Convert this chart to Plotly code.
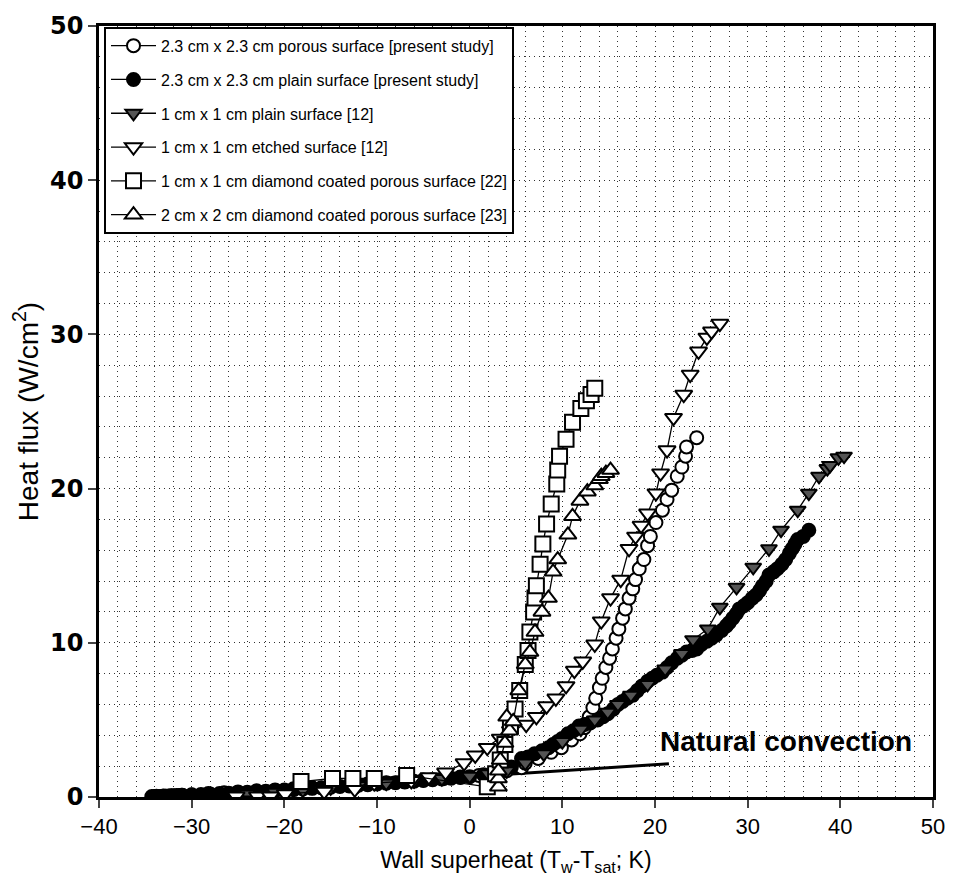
import plotly.graph_objects as go

# ---- data ----
porous_x = [-33.8, -33.0, -32.2, -31.1, -30.0, -28.2, -26.5, -25.0, -23.0, -21.0, -19.0, -17.0, -15.0, -13.0,
            -11.0, -9.0, -7.0, -5.0, -2.8, -1.0, 1.0, 2.5, 4.0, 5.6, 6.0, 7.4, 8.8, 9.9, 11.0, 11.9, 12.4,
            12.9, 13.3, 13.6, 14.0, 14.3, 14.7, 15.1, 15.4, 15.8, 16.1, 16.5, 16.8, 17.2, 17.6, 17.9, 18.3,
            18.8, 19.2, 19.5, 20.1, 20.8, 21.3, 21.8, 22.4, 22.9, 23.3, 23.4, 24.5]
porous_y = [0.05, 0.06, 0.08, 0.12, 0.15, 0.22, 0.28, 0.33, 0.40, 0.46, 0.53, 0.60, 0.68, 0.76,
            0.84, 0.92, 1.00, 1.10, 1.20, 1.30, 1.40, 1.50, 1.70, 1.90, 2.2, 2.5, 2.9, 3.2, 3.7, 4.1, 4.5,
            5.2, 5.8, 6.4, 7.1, 7.7, 8.4, 9.0, 9.6, 10.3, 10.9, 11.6, 12.2, 12.9, 13.5, 14.1, 14.8,
            15.4, 16.3, 16.9, 17.8, 18.6, 19.3, 19.9, 20.8, 21.4, 22.1, 22.7, 23.3]

plain_x = [-34.3, -34.0, -33.7, -33.4, -33.1, -32.8, -32.5, -32.2, -31.9, -31.6, -31.3, -31.0, -30.0,
           -29.0, -28.0, -27.0, -26.0, -25.0, -24.0, -23.0, -22.0, -21.0, -20.0, -19.0, -18.0, -17.0,
           -16.0, -15.0, -14.0, -13.0, -12.0, -11.0, -10.0, -9.0, -8.0, -7.0, -6.0, -5.0, -4.0, -3.0,
           -2.0, -1.0, 0.0, 1.5, 3.0, 4.5, 5.6, 6.3, 7.0, 7.8, 8.5, 9.0, 9.5, 10.0, 10.6, 11.2, 11.8,
           12.4, 13.0, 13.8, 14.4, 14.9, 15.5, 16.0, 16.5, 17.0, 17.6, 18.1, 18.6, 19.2, 19.7, 20.2,
           20.8, 21.3, 21.8, 22.4, 22.9, 23.4, 24.0, 24.5, 25.0, 25.6, 26.1, 26.6, 27.2, 27.7, 28.0,
           28.4, 28.8, 29.1, 29.6, 30.0, 30.5, 30.9, 31.3, 31.6, 32.0, 32.3, 32.8, 33.2, 33.7, 34.1,
           34.5, 34.8, 35.1, 35.4, 36.0, 36.6]
plain_y = [0.03, 0.03, 0.04, 0.04, 0.05, 0.05, 0.06, 0.07, 0.08, 0.09, 0.10, 0.11, 0.13,
           0.16, 0.19, 0.22, 0.25, 0.28, 0.31, 0.35, 0.38, 0.40, 0.45, 0.48, 0.52, 0.56,
           0.60, 0.64, 0.68, 0.72, 0.76, 0.80, 0.85, 0.89, 0.93, 0.97, 1.02, 1.07, 1.12, 1.17,
           1.22, 1.27, 1.32, 1.45, 1.60, 1.95, 2.5, 2.6, 2.8, 3.0, 3.2, 3.4, 3.6, 3.8, 4.1, 4.3, 4.6,
           4.7, 4.8, 5.0, 5.2, 5.4, 5.7, 6.0, 6.2, 6.4, 6.6, 6.9, 7.2, 7.5, 7.7, 7.9,
           8.1, 8.4, 8.7, 9.0, 9.2, 9.4, 9.5, 9.6, 9.9, 10.1, 10.3, 10.5, 10.8, 11.1, 11.3,
           11.6, 11.9, 12.2, 12.4, 12.6, 12.9, 13.1, 13.4, 13.7, 14.0, 14.4, 14.6, 14.8, 15.1, 15.4,
           15.8, 16.1, 16.4, 16.7, 16.9, 17.3]

plain12_x = [-24.0, -21.0, -18.0, -15.0, -12.0, -9.0, -6.0, -3.0, 0.0, 2.0, 4.0, 6.0, 8.0, 10.0, 12.0,
             13.5, 14.9, 16.0, 17.4, 19.2, 21.1, 22.9, 24.1, 25.7, 27.0, 28.8, 30.6, 32.3, 33.6, 35.4,
             36.6, 37.7, 38.6, 38.9, 39.8, 40.4]
plain12_y = [0.20, 0.30, 0.45, 0.60, 0.75, 0.90, 1.05, 1.20, 1.35, 1.50, 1.70, 2.2, 2.8, 3.6, 4.4,
             5.0, 5.5, 6.0, 6.6, 7.3, 8.3, 9.3, 10.2, 10.9, 12.3, 13.6, 14.9, 16.1, 17.3, 18.6,
             19.7, 20.8, 21.3, 21.5, 22.0, 22.1]

etched_x = [-25.2, -22.9, -21.5, -19.9, -15.7, -12.4, -10.3, -6.3, -4.4, -2.6, -0.6, 0.6, 1.9, 3.3, 4.4,
            6.1, 7.2, 8.3, 9.3, 10.4, 11.3, 12.2, 13.5, 14.2, 15.2, 16.3, 17.2, 17.9, 18.5, 19.2, 20.1,
            20.6, 21.3, 22.0, 23.1, 23.8, 24.7, 25.6, 26.1, 27.0]
etched_y = [0.05, 0.05, 0.05, 0.20, 0.35, 0.50, 0.90, 1.05, 1.30, 1.60, 2.2, 2.7, 3.2, 3.8, 4.3,
            4.7, 5.2, 5.9, 6.4, 7.2, 8.2, 8.8, 9.9, 11.4, 12.9, 14.1, 16.1, 16.9, 17.6, 18.4, 19.7,
            21.0, 22.5, 24.6, 26.1, 27.4, 28.9, 29.8, 30.2, 30.7]

diamond1_x = [-18.2, -14.8, -12.6, -10.3, -6.8, 1.9, 2.8, 3.3, 3.8, 4.4, 4.9, 5.4, 6.0, 6.3, 6.5, 6.9,
              7.05, 7.2, 7.6, 7.9, 8.3, 8.8, 9.4, 9.5, 9.7, 10.4, 11.1, 12.0, 12.6, 13.1, 13.5]
diamond1_y = [1.0, 1.2, 1.2, 1.2, 1.4, 0.66, 1.5, 2.4, 3.4, 4.6, 5.7, 6.9, 8.6, 9.5, 10.7, 12.0,
              12.9, 13.7, 15.1, 16.4, 17.7, 19.0, 20.3, 21.2, 22.1, 23.2, 24.3, 25.2, 25.7, 26.1, 26.5]

diamond2_x = [3.1, 3.1, 3.1, 3.3, 3.8, 4.0, 4.3, 4.7, 5.3, 6.0, 6.5, 7.05, 7.8, 8.5, 9.0, 9.5, 10.6,
              11.1, 11.9, 12.7, 13.5, 14.0, 14.2, 14.7, 15.2]
diamond2_y = [0.66, 1.2, 1.7, 2.4, 3.5, 5.2, 4.3, 4.9, 6.9, 8.6, 9.4, 10.7, 12.0, 12.9, 14.6, 15.4, 17.0,
              18.2, 19.2, 19.8, 20.2, 20.6, 20.8, 21.0, 21.2]

natconv_x = [-34.0, 21.5]
natconv_y = [0.0, 2.15]

series_names = [
    "2.3 cm x 2.3 cm porous surface [present study]",
    "2.3 cm x 2.3 cm plain surface [present study]",
    "1 cm x 1 cm plain surface [12]",
    "1 cm x 1 cm etched surface [12]",
    "1 cm x 1 cm diamond coated porous surface [22]",
    "2 cm x 2 cm diamond coated porous surface [23]",
]

# ---- styles ----
styles = [
    dict(symbol="circle", color="white", size=13),
    dict(symbol="circle", color="black", size=13),
    dict(symbol="triangle-down", color="#555555", size=14),
    dict(symbol="triangle-down", color="white", size=15),
    dict(symbol="square", color="white", size=15),
    dict(symbol="triangle-up", color="white", size=15),
]
data = [(porous_x, porous_y), (plain_x, plain_y), (plain12_x, plain12_y),
        (etched_x, etched_y), (diamond1_x, diamond1_y), (diamond2_x, diamond2_y)]

SANS = "Liberation Sans, Arial, sans-serif"

fig = go.Figure()

fig.add_trace(go.Scatter(x=natconv_x, y=natconv_y, mode="lines",
                         line=dict(color="black", width=3), showlegend=False, hoverinfo="skip"))

for i, ((xs, ys), name, st) in enumerate(zip(data, series_names, styles)):
    fig.add_trace(go.Scatter(
        x=xs, y=ys, mode="lines+markers", name=name, legendgroup=f"g{i}",
        line=dict(color="black", width=1.3),
        marker=dict(symbol=st["symbol"], color=st["color"], size=st["size"],
                    line=dict(color="black", width=2)),
    ))

fig.add_annotation(x=20.3, y=3.6, xref="x", yref="y", text="<b>Natural convection</b>",
                   showarrow=False, xanchor="left", yanchor="middle",
                   font=dict(family=SANS, size=28, color="black"))

grid_common = dict(showgrid=True, gridcolor="#333333", gridwidth=1, griddash="1px,4px")

fig.update_layout(
    width=957, height=882,
    margin=dict(l=99, r=20, t=18, b=85),
    plot_bgcolor="white", paper_bgcolor="white",
    font=dict(family=SANS, color="black"),
    legend=dict(x=0.006, y=0.999, xanchor="left", yanchor="top",
                bgcolor="white", bordercolor="black", borderwidth=2,
                font=dict(size=16, family=SANS, color="black"),
                tracegroupgap=10, itemwidth=45, traceorder="grouped"),
    xaxis=dict(range=[-40, 50], dtick=10, tick0=0, ticks="outside", ticklen=8, tickwidth=2,
               showline=True, linewidth=2.5, linecolor="black", mirror=True, zeroline=False,
               tickfont=dict(size=22, family=SANS, color="black"),
               title=dict(text="Wall superheat (T<sub>w</sub>-T<sub>sat</sub>; K)", standoff=14,
                          font=dict(size=23, family=SANS, color="black")),
               minor=dict(dtick=2, tick0=0, **grid_common),
               **grid_common),
    yaxis=dict(range=[0, 50], dtick=10, tick0=0, ticks="outside", ticklen=8, tickwidth=2,
               showline=True, linewidth=2.5, linecolor="black", mirror=True, zeroline=False,
               tickfont=dict(size=24, family="DejaVu Sans, sans-serif", weight="bold", color="black"),
               title=dict(text="Heat flux (W/cm<sup>2</sup>)", standoff=4,
                          font=dict(size=28, family=SANS, color="black")),
               minor=dict(dtick=2, tick0=0, **grid_common),
               **grid_common),
)

fig.write_html("out.html")
